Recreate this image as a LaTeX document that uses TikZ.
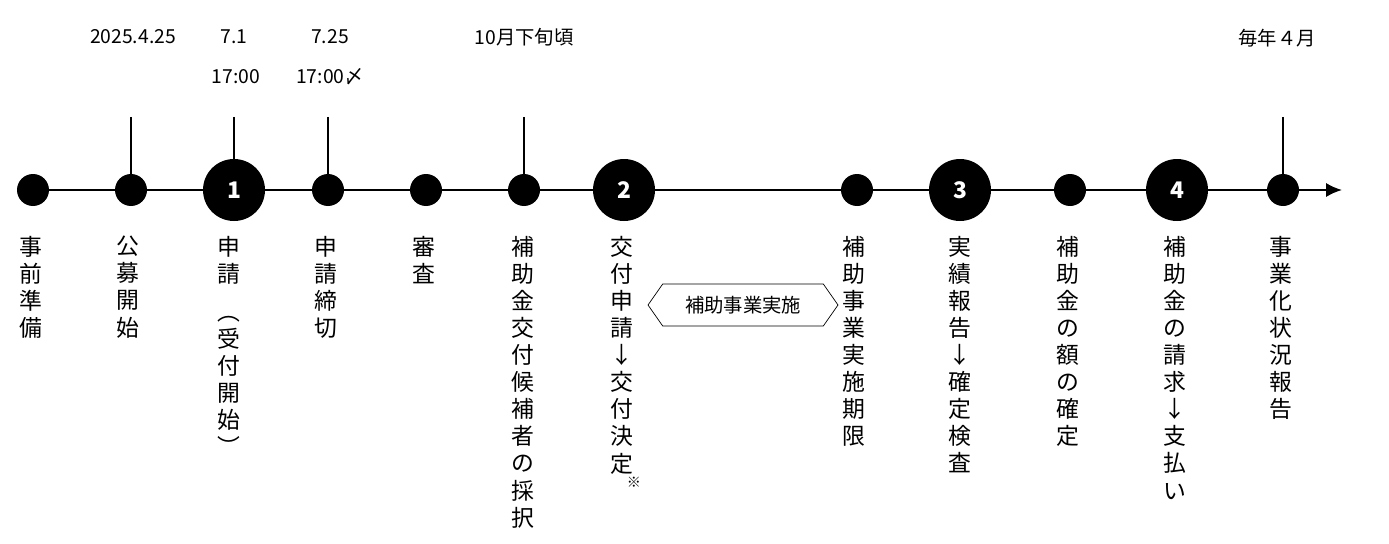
\documentclass[tikz,border=0pt]{standalone}
\usepackage{fontspec}
\setmainfont{Noto Sans CJK JP}
\usetikzlibrary{shapes.symbols,arrows.meta}
\tikzset{
  dot/.style={circle,fill=black,inner sep=0pt,minimum size=32*0.02cm},
  bigdot/.style={circle,fill=black,inner sep=0pt,minimum size=62*0.02cm,
    text=white,font=\fontsize{13}{13}\selectfont\bfseries},
  vlabel/.style={anchor=north,align=center,inner sep=0pt,
    font=\fontsize{13}{15.4}\selectfont},
  date/.style={inner sep=0pt,font=\fontsize{11}{11}\selectfont},
  tick/.style={line width=1.2pt},
}
\begin{document}
\begin{tikzpicture}[x=0.02cm,y=-0.02cm]
\useasboundingbox (0,0) rectangle (1389,544);

% axis
\coordinate (start) at (20,190);
\coordinate (end) at (1342,190);
\draw[line width=1.2pt,-{Latex[length=9pt,width=8pt]}] (start) -- (end);

% points on the axis
\node[dot] (p0) at (33,190) {};
\node[dot] (p1) at (131,190) {};
\node[bigdot] (p2) at (234,190) {1};
\node[dot] (p3) at (328,190) {};
\node[dot] (p4) at (426,190) {};
\node[dot] (p5) at (524,190) {};
\node[bigdot] (p6) at (624,190) {2};
\node[dot] (p7) at (857,190) {};
\node[bigdot] (p8) at (960,190) {3};
\node[dot] (p9) at (1070,190) {};
\node[bigdot] (p10) at (1177,190) {4};
\node[dot] (p11) at (1283,190) {};

% ticks
\foreach \p/\t in {p1/t1,p2/t2,p3/t3,p5/t5,p11/t11}{
  \coordinate (\t) at ([yshift=73*0.02cm]\p.center);
  \draw[tick] (\t) -- (\p);
}

% dates
\node[date] (d1) at (133,37) {2025.4.25};
\node[date] (d2) at (234,37) {7.1};
\node[date] (d2b) at (236,77) {17:00};
\node[date] (d3) at (330,37) {7.25};
\node[date] (d3b) at (330,77) {17:00〆};
\node[date] (d5) at (524,37) {10月下旬頃};
\node[date] (d11) at (1277,38) {毎年４月};

% labels
\node[vlabel] (l0) at (31,236) {事\\前\\準\\備};
\node[vlabel] (l1) at (128,236) {公\\募\\開\\始};
\node[vlabel] (l2) at (229,236) {申\\請\\[6pt]︵\\受\\付\\開\\始\\︶};
\node[vlabel] (l3) at (326,236) {申\\請\\締\\切};
\node[vlabel] (l4) at (424,236) {審\\査};
\node[vlabel] (l5) at (523,236) {補\\助\\金\\交\\付\\候\\補\\者\\の\\採\\択};
\node[vlabel] (l6) at (622,236) {交\\付\\申\\請\\↓\\交\\付\\決\\定};
\node[inner sep=0pt,font=\fontsize{8}{8}\selectfont] (note) at (634,482) {※};
\node[vlabel] (l7) at (854,236) {補\\助\\事\\業\\実\\施\\期\\限};
\node[vlabel] (l8) at (960,236) {実\\績\\報\\告\\↓\\確\\定\\検\\査};
\node[vlabel] (l9) at (1068,236) {補\\助\\金\\の\\額\\の\\確\\定};
\node[vlabel] (l10) at (1175,236) {補\\助\\金\\の\\請\\求\\↓\\支\\払\\い};
\node[vlabel] (l11) at (1281,236) {事\\業\\化\\状\\況\\報\\告};

% period
\node[draw,signal,signal to=west and east,signal pointer angle=110,
  minimum width=190*0.02cm,minimum height=42*0.02cm,inner sep=2pt,
  font=\fontsize{11}{11}\selectfont] (period) at (743,305) {補助事業実施};
\end{tikzpicture}
\end{document}
